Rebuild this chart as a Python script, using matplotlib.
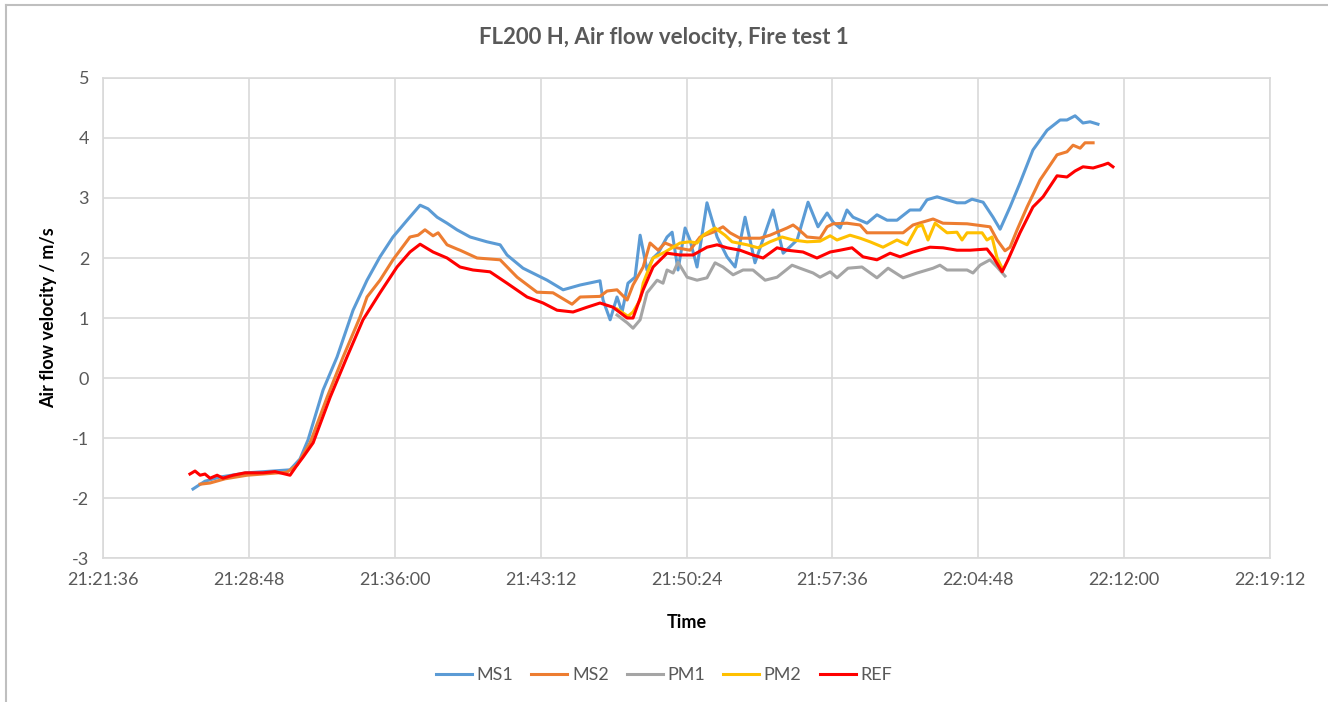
#!/usr/bin/env python3
"""
FL200 H - vitesse d'écoulement d'air, essai feu 1.
Temps en minutes après 21:00:00, vitesses en m/s.
"""

import matplotlib
matplotlib.use("Agg")
import matplotlib.pyplot as plt
from matplotlib.ticker import FuncFormatter, MultipleLocator
from matplotlib.lines import Line2D

FONT = ["Lato", "DejaVu Sans"]
TEXT_GREY = "#595959"
GRID_GREY = "#d9d9d9"

plt.rcParams["axes.unicode_minus"] = False

# --- Données (temps en minutes après 21:00) ---
ms1_t = [26.04, 26.63, 27.38, 28.71, 30.83, 31.32, 31.72, 32.46, 33.15, 33.94,
         34.63, 35.27, 35.91, 36.61, 37.25, 37.64, 38.09, 38.58, 39.07, 39.72,
         40.55, 41.20, 41.54, 42.33, 43.52, 44.31, 45.15, 46.13, 46.28, 46.63,
         46.97, 47.22, 47.51, 47.86, 48.11, 48.45, 48.75, 49.00, 49.44, 49.69,
         49.98, 50.33, 50.57, 50.92, 51.41, 51.91, 52.40, 52.80, 53.29, 53.78,
         54.67, 55.17, 55.86, 56.40, 56.89, 57.34, 57.63, 57.98, 58.32, 58.62,
         59.31, 59.80, 60.30, 60.79, 61.43, 61.93, 62.27, 62.77, 63.26, 63.75,
         64.15, 64.49, 65.04, 65.53, 65.88, 66.37, 66.86, 67.50, 68.20, 68.84,
         69.18, 69.58, 69.97, 70.32, 70.71]
ms1_v = [-1.85, -1.72, -1.65, -1.58, -1.53, -1.35, -1.03, -0.20, 0.35, 1.13,
         1.63, 2.02, 2.35, 2.63, 2.88, 2.82, 2.68, 2.58, 2.47, 2.35,
         2.27, 2.22, 2.05, 1.83, 1.63, 1.47, 1.55, 1.62, 1.30, 0.97,
         1.35, 1.10, 1.58, 1.68, 2.38, 1.80, 2.00, 2.08, 2.35, 2.43,
         1.80, 2.50, 2.30, 1.85, 2.92, 2.35, 2.02, 1.85, 2.68, 1.92,
         2.80, 2.08, 2.30, 2.93, 2.52, 2.75, 2.60, 2.50, 2.80, 2.68,
         2.58, 2.72, 2.63, 2.63, 2.80, 2.80, 2.97, 3.02, 2.97, 2.92,
         2.92, 2.98, 2.93, 2.68, 2.48, 2.85, 3.25, 3.80, 4.13, 4.30,
         4.30, 4.37, 4.25, 4.27, 4.23]

ms2_t = [26.39, 26.88, 27.62, 28.71, 30.68, 31.18, 31.82, 32.66, 33.45, 34.29,
         34.63, 35.27, 35.91, 36.75, 37.15, 37.49, 37.89, 38.14, 38.58, 39.07,
         39.22, 40.06, 41.20, 42.04, 43.02, 43.81, 44.75, 45.15, 46.13, 46.48,
         46.97, 47.47, 47.76, 48.26, 48.60, 49.00, 49.34, 49.93, 50.57, 51.07,
         51.71, 52.20, 52.55, 53.04, 54.03, 54.52, 55.36, 55.66, 55.86, 56.35,
         56.99, 57.34, 57.63, 58.32, 58.97, 59.31, 60.30, 61.09, 61.58, 62.57,
         63.06, 64.25, 65.38, 65.73, 66.12, 66.37, 66.72, 67.21, 67.85, 68.69,
         69.18, 69.48, 69.83, 70.07, 70.47]
ms2_v = [-1.77, -1.75, -1.68, -1.62, -1.57, -1.45, -1.08, -0.32, 0.35, 1.02,
         1.35, 1.63, 1.97, 2.35, 2.38, 2.47, 2.37, 2.42, 2.22, 2.15,
         2.13, 2.00, 1.97, 1.68, 1.43, 1.42, 1.23, 1.35, 1.36, 1.45,
         1.47, 1.30, 1.55, 1.85, 2.25, 2.13, 2.25, 2.17, 2.13, 2.35,
         2.43, 2.52, 2.42, 2.33, 2.33, 2.38, 2.50, 2.55, 2.50, 2.35,
         2.33, 2.52, 2.57, 2.58, 2.55, 2.42, 2.42, 2.42, 2.55, 2.65,
         2.58, 2.57, 2.52, 2.30, 2.12, 2.18, 2.47, 2.85, 3.30, 3.72,
         3.77, 3.88, 3.83, 3.92, 3.92]

pm1_t = [46.97, 47.47, 47.76, 48.11, 48.45, 48.95, 49.24, 49.44, 49.74, 49.98,
         50.43, 50.92, 51.41, 51.81, 52.20, 52.70, 53.19, 53.68, 54.28, 54.87,
         55.61, 56.00, 56.65, 56.99, 57.49, 57.83, 58.37, 59.06, 59.80, 60.35,
         61.09, 61.78, 62.57, 62.91, 63.26, 64.25, 64.54, 64.89, 65.38, 65.73,
         66.12]
pm1_v = [1.05, 0.92, 0.83, 0.97, 1.42, 1.63, 1.58, 1.80, 1.75, 1.93,
         1.68, 1.63, 1.67, 1.92, 1.85, 1.72, 1.80, 1.80, 1.63, 1.68,
         1.88, 1.83, 1.75, 1.68, 1.77, 1.67, 1.83, 1.85, 1.67, 1.83,
         1.67, 1.75, 1.83, 1.88, 1.80, 1.80, 1.75, 1.88, 1.97, 1.85,
         1.70]

pm2_t = [46.97, 47.51, 47.76, 48.11, 48.26, 48.75, 49.34, 50.08, 50.57, 50.92,
         51.22, 51.81, 52.30, 52.65, 53.39, 53.93, 54.52, 55.12, 55.66, 56.35,
         56.99, 57.49, 57.83, 58.47, 58.97, 59.46, 60.10, 60.79, 61.29, 61.78,
         62.03, 62.32, 62.67, 63.26, 63.75, 64.00, 64.25, 64.99, 65.23, 65.48,
         65.73, 65.98]
pm2_v = [1.15, 1.03, 1.10, 1.30, 1.58, 2.00, 2.10, 2.25, 2.27, 2.25,
         2.38, 2.50, 2.38, 2.27, 2.22, 2.17, 2.27, 2.35, 2.30, 2.27,
         2.28, 2.37, 2.30, 2.38, 2.33, 2.27, 2.18, 2.30, 2.22, 2.52,
         2.55, 2.30, 2.58, 2.42, 2.43, 2.30, 2.42, 2.42, 2.30, 2.35,
         2.00, 1.83]

ref_t = [25.89, 26.04, 26.14, 26.39, 26.63, 26.88, 27.23, 27.52, 28.02, 28.61,
         29.50, 30.09, 30.83, 31.18, 31.47, 31.97, 32.81, 33.64, 34.43, 35.27,
         36.11, 36.75, 37.25, 37.89, 38.58, 39.22, 39.86, 40.70, 41.54, 42.53,
         43.32, 44.01, 44.80, 45.49, 46.13, 46.77, 47.47, 47.76, 48.26, 48.75,
         49.44, 50.08, 50.72, 51.41, 51.91, 52.40, 53.04, 53.68, 54.18, 54.87,
         55.36, 56.15, 56.84, 57.49, 57.98, 58.57, 59.11, 59.80, 60.45, 60.94,
         61.58, 62.42, 63.06, 63.75, 64.40, 65.23, 65.53, 65.98, 66.27, 66.86,
         67.50, 68.00, 68.69, 69.18, 69.58, 69.97, 70.47, 70.96, 71.21, 71.45]
ref_v = [-1.60, -1.57, -1.55, -1.62, -1.60, -1.67, -1.62, -1.67, -1.62, -1.58,
         -1.58, -1.56, -1.62, -1.45, -1.32, -1.08, -0.32, 0.35, 0.97, 1.42,
         1.85, 2.10, 2.23, 2.10, 2.00, 1.85, 1.80, 1.77, 1.58, 1.35,
         1.25, 1.13, 1.10, 1.18, 1.25, 1.18, 1.00, 1.00, 1.47, 1.85,
         2.08, 2.05, 2.05, 2.18, 2.22, 2.17, 2.13, 2.05, 2.00, 2.17,
         2.13, 2.10, 2.00, 2.10, 2.13, 2.17, 2.02, 1.97, 2.08, 2.02,
         2.10, 2.18, 2.17, 2.13, 2.13, 2.15, 2.02, 1.77, 1.97, 2.42,
         2.85, 3.02, 3.37, 3.35, 3.45, 3.52, 3.50, 3.55, 3.58, 3.52]

series = [
    ("MS1", ms1_t, ms1_v, "#5B9BD5"),
    ("MS2", ms2_t, ms2_v, "#ED7D31"),
    ("PM1", pm1_t, pm1_v, "#A5A5A5"),
    ("PM2", pm2_t, pm2_v, "#FFC000"),
    ("REF", ref_t, ref_v, "#FF0000"),
]

# Axe des temps : 21:21:36 -> 22:19:12, pas de 7:12
X_MIN, X_MAX, X_STEP = 21.6, 79.2, 7.2


def fmt_time(m, pos=None):
    s = int(round(m * 60)) + 21 * 3600
    return f"{s // 3600:02d}:{(s % 3600) // 60:02d}:{s % 60:02d}"


def main():
    fig = plt.figure(figsize=(13.28, 7.02), dpi=100)
    ax = fig.add_axes([0.0776, 0.2051, 0.8787, 0.6838])

    for name, t, v, c in series:
        ax.plot(t, v, color=c, linewidth=2.2, label=name, solid_joinstyle="round")

    ax.set_xlim(X_MIN, X_MAX)
    ax.set_ylim(-3, 5)
    ax.xaxis.set_major_locator(MultipleLocator(X_STEP))
    ax.xaxis.set_major_formatter(FuncFormatter(fmt_time))
    ax.yaxis.set_major_locator(MultipleLocator(1))

    ax.grid(True, color=GRID_GREY, linewidth=1.2)
    ax.set_axisbelow(True)
    for sp in ax.spines.values():
        sp.set_color(GRID_GREY)
        sp.set_linewidth(1.2)
    ax.tick_params(length=0, labelsize=13, labelcolor=TEXT_GREY, pad=10)
    for lab in ax.get_xticklabels() + ax.get_yticklabels():
        lab.set_family(FONT)

    ax.set_xlabel("Time", fontsize=13, fontweight="bold", family=FONT, labelpad=19)
    ax.set_ylabel("Air flow velocity / m/s", fontsize=13, fontweight="bold",
                  family=FONT, labelpad=11)
    fig.text(0.5, 0.946, "FL200 H, Air flow velocity, Fire test 1", ha="center",
             va="center", fontsize=16, fontweight="bold", color=TEXT_GREY, family=FONT)

    handles = [Line2D([], [], color=c, linewidth=2.2) for _, _, _, c in series]
    leg = fig.legend(handles, [s[0] for s in series], loc="center",
                     bbox_to_anchor=(0.5, 0.038), ncol=5, frameon=False,
                     handlelength=2.0, columnspacing=1.0, handletextpad=0.25,
                     prop={"family": FONT, "size": 13})
    for txt in leg.get_texts():
        txt.set_color(TEXT_GREY)

    # cadre extérieur (coupé à droite et en bas)
    fig.add_artist(Line2D([0.0045, 0.0045], [0, 0.993], color="#bfbfbf", linewidth=1.5))
    fig.add_artist(Line2D([0.0045, 1.0], [0.993, 0.993], color="#bfbfbf", linewidth=1.5))

    fig.savefig("out.png", dpi=100, facecolor="white")


if __name__ == "__main__":
    main()
